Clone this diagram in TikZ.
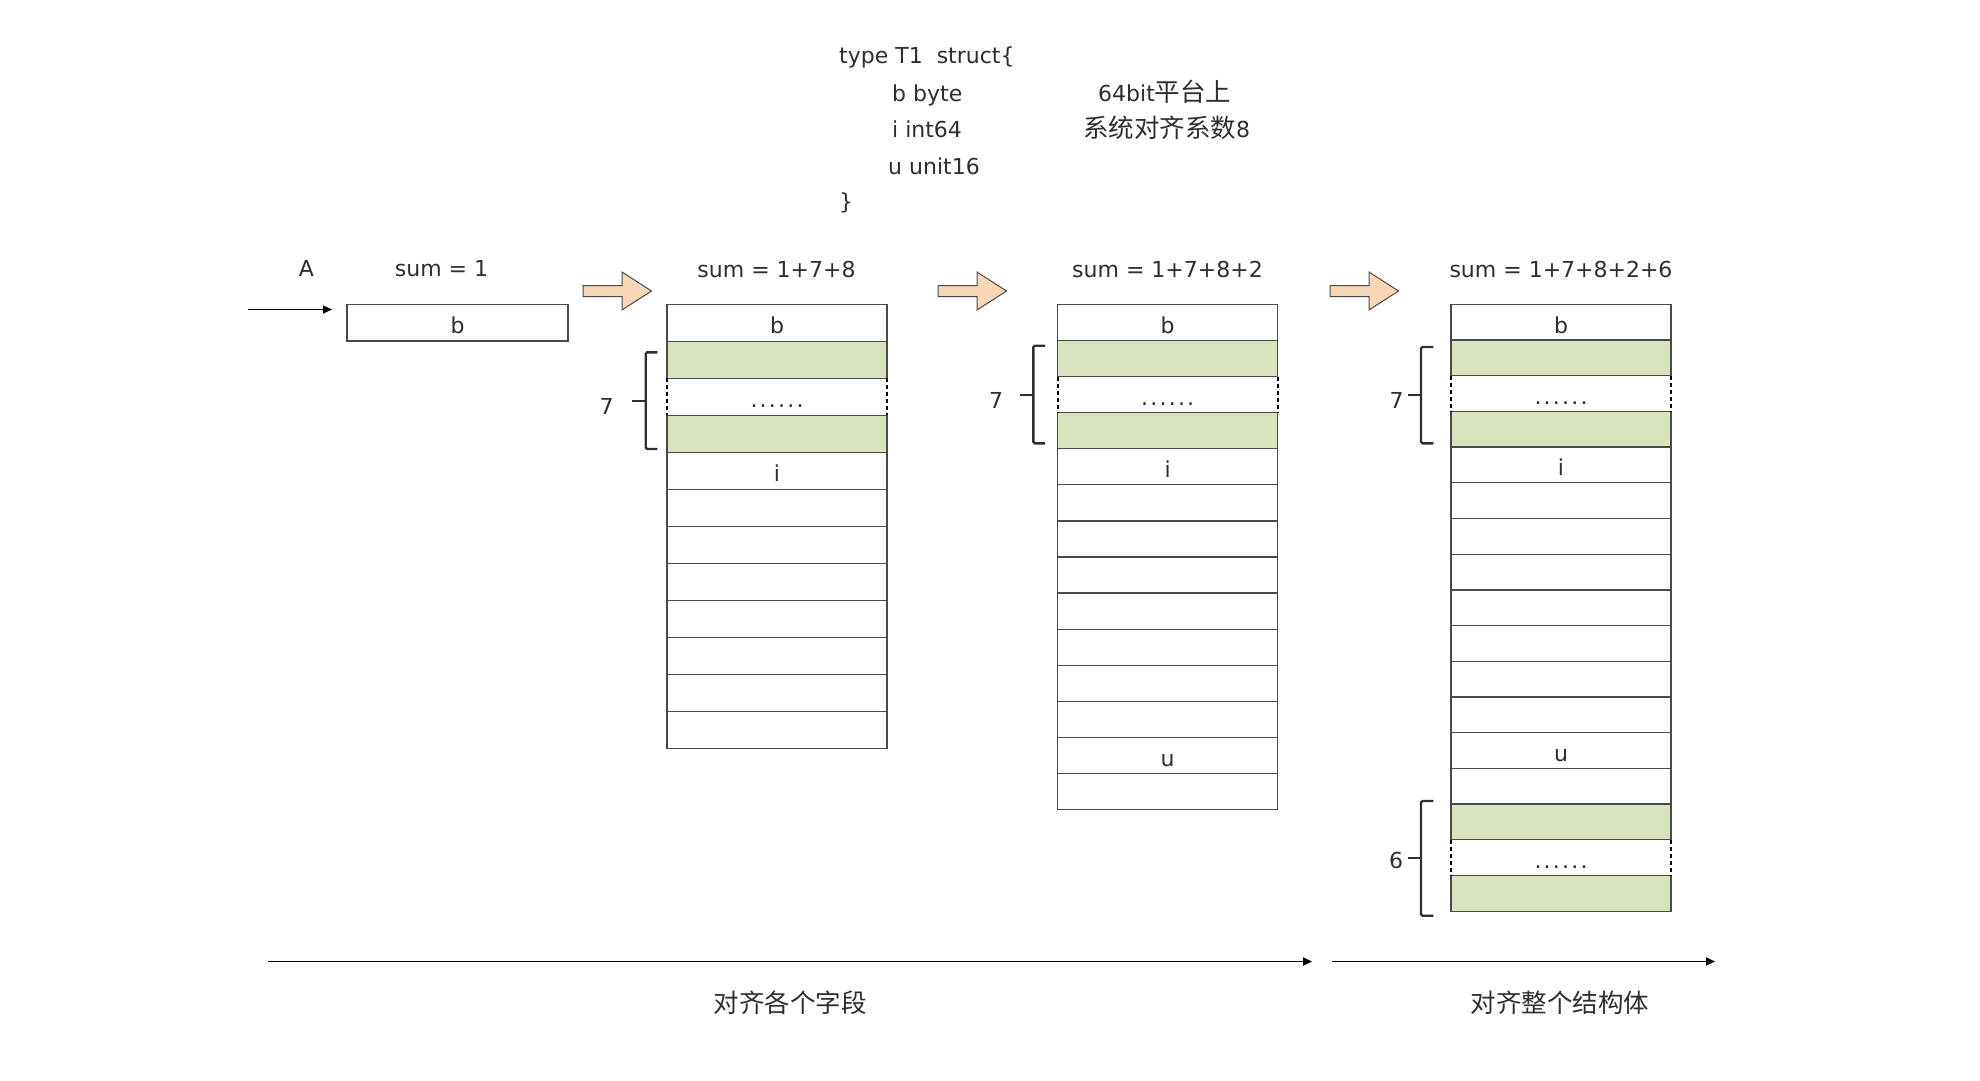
\documentclass[tikz,border=0pt]{standalone}
\usepackage{fontspec}
\setmainfont{DejaVu Sans}
\newfontfamily\cjk{Noto Sans CJK SC}
\usetikzlibrary{arrows.meta}
\definecolor{linec}{HTML}{4A4A4A}
\definecolor{greenf}{HTML}{D7E4BD}
\definecolor{peach}{HTML}{FAD7B4}
\definecolor{txtc}{HTML}{2E2E2E}
\begin{document}
\begin{tikzpicture}[x=1pt,y=-1pt,
  txt/.style={font=\fontsize{22}{26}\selectfont, text=txtc, inner sep=0pt},
  cjktxt/.style={font=\cjk\fontsize{25.5}{30}\selectfont, text=txtc, inner sep=0pt},
  cell/.style={draw=linec, line width=1.3pt, anchor=north west, minimum width=220pt, inner sep=0pt, outer sep=0pt},
  wcell/.style={cell, fill=white},
  gcell/.style={cell, fill=greenf},
  dcell/.style={cell, draw=none},
  dside/.style={draw=black, line width=1.8pt, dash pattern=on 4pt off 3pt},
  brace/.style={draw=txtc, line width=2.4pt, rounded corners=1.5pt},
  barrow/.style={draw=linec, fill=peach, line width=1pt, line join=miter},
  conn/.style={draw=black, line width=1.8pt, -{Triangle[length=9pt,width=8pt]}},
]
\useasboundingbox (0,0) rectangle (1980,1080);

% struct text
\node[txt, anchor=base west] (l1) at (839,63) {type T1~~struct\{};
\node[txt, anchor=base west] (l2) at (892,101) {b byte};
\node[txt, anchor=base west] (l3) at (892,137.5) {i int64};
\node[txt, anchor=base west] (l4) at (888,174) {u unit16};
\node[txt, anchor=base west] (l5) at (839,209) {\}};
\node[txt, anchor=base west] (p1) at (1098,101) {64bit{\cjk\fontsize{25.5}{30}\selectfont 平台上}};
\node[txt, anchor=base west] (p2) at (1083,137.5) {{\cjk\fontsize{25.5}{30}\selectfont 系统对齐系数}8};

% column 0
\node[txt, anchor=base] (A) at (306.5,276.5) {A};
\node[txt, anchor=base] (s0) at (441.5,276.5) {sum = 1};
\node[wcell, minimum width=221pt, minimum height=36.7pt] (b0) at (347,304.3) {};
\node[txt, anchor=base] (b0l) at ([yshift=-11pt]b0.center) {b};
\coordinate (astart) at (247.5,309.5);
\coordinate (aend) at (332,309.5);
\draw[conn, line width=1.5pt] (astart) -- (aend);

% block arrows
\foreach \ax in {583,938,1330}{
  \draw[barrow] (\ax,285.5) -- (\ax+39,285.5) -- (\ax+39,272) -- (\ax+68.5,291) -- (\ax+39,310) -- (\ax+39,296.5) -- (\ax,296.5) -- cycle;
}

% titles
\node[txt, anchor=base] (s1) at (776.5,277.5) {sum = 1+7+8};
\node[txt, anchor=base] (s2) at (1167.5,277.5) {sum = 1+7+8+2};
\node[txt, anchor=base] (s3) at (1561,277.5) {sum = 1+7+8+2+6};

% column 1
\foreach \k/\s in {0/wcell,1/gcell,2/dcell,3/gcell,4/wcell,5/wcell,6/wcell,7/wcell,8/wcell,9/wcell,10/wcell,11/wcell}{
  \node[\s, minimum height=37.03pt] (c1r\k) at (667,{304.3+\k*37.03}) {};
}
% column 2
\foreach \k/\s in {0/wcell,1/gcell,2/dcell,3/gcell,4/wcell,5/wcell,6/wcell,7/wcell,8/wcell,9/wcell,10/wcell,11/wcell,12/wcell,13/wcell}{
  \node[\s, minimum height=36.1pt] (c2r\k) at (1057.7,{304.3+\k*36.1}) {};
}
% column 3
\foreach \k/\s in {0/wcell,1/gcell,2/dcell,3/gcell,4/wcell,5/wcell,6/wcell,7/wcell,8/wcell,9/wcell,10/wcell,11/wcell,12/wcell,13/wcell,14/gcell,15/dcell,16/gcell}{
  \node[\s, minimum height=35.7pt] (c3r\k) at (1451,{304.3+\k*35.7}) {};
}

% dashed sides of the elided rows
\foreach \r in {c1r2,c2r2,c3r2,c3r15}{
  \draw[dside] (\r.north west) -- (\r.south west);
  \draw[dside] (\r.north east) -- (\r.south east);
  \node[txt, anchor=base] (\r d) at ([yshift=-11pt]\r.center) {.\hspace{2.2pt}.\hspace{2.2pt}.\hspace{2.2pt}.\hspace{2.2pt}.\hspace{2.2pt}.};
}

% cell labels
\foreach \q in {1,2,3}{
  \node[txt, anchor=base] (c\q lb) at ([yshift=-11pt]c\q r0.center) {b};
  \node[txt, anchor=base] (c\q li) at ([yshift=-11pt]c\q r4.center) {i};
}
\node[txt, anchor=base] (c2lu) at ([yshift=-11pt]c2r12.center) {u};
\node[txt, anchor=base] (c3lu) at ([yshift=-11pt]c3r12.center) {u};

% braces
\draw[brace] (657.3,352.3) -- (645.7,352.3) -- (645.7,449) -- (657.3,449);
\draw[brace] (631.7,400.7) -- (645.7,400.7);
\node[txt] (n7a) at (606.7,406) {7};

\draw[brace] (1045,345.7) -- (1033.3,345.7) -- (1033.3,443.3) -- (1045,443.3);
\draw[brace] (1020,395) -- (1033.3,395);
\node[txt] (n7b) at (996,400) {7};

\draw[brace] (1433.3,347) -- (1421,347) -- (1421,443.3) -- (1433.3,443.3);
\draw[brace] (1408.3,395) -- (1421,395);
\node[txt] (n7c) at (1396.7,400) {7};

\draw[brace] (1433.3,801) -- (1421,801) -- (1421,915.7) -- (1433.3,915.7);
\draw[brace] (1408.3,857.7) -- (1421,857.7);
\node[txt] (n6) at (1396,860) {6};

% bottom arrows
\coordinate (f1s) at (268,961.5);
\coordinate (f1e) at (1312,961.5);
\coordinate (f2s) at (1332,961.5);
\coordinate (f2e) at (1715,961.5);
\draw[conn] (f1s) -- (f1e);
\draw[conn] (f2s) -- (f2e);
\node[cjktxt] (lab1) at (790,1002.5) {对齐各个字段};
\node[cjktxt] (lab2) at (1560,1002.5) {对齐整个结构体};
\end{tikzpicture}
\end{document}
